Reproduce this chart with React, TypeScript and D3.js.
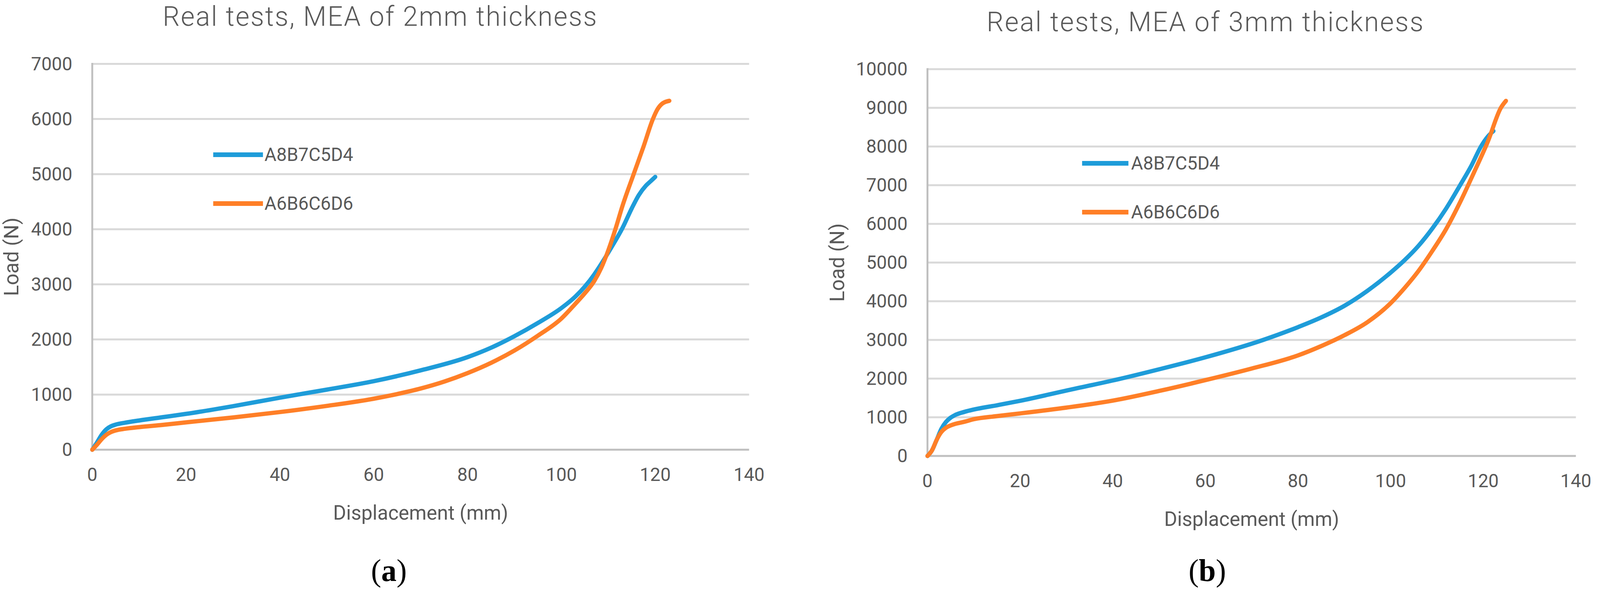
import React from "react";
import * as d3 from "d3";

// ---- data ----
const SERIES_NAMES = ["A8B7C5D4", "A6B6C6D6"];
const SERIES_COLORS = ["#1e9cd9", "#ff7f27"];
const TITLES = ["Real tests, MEA of 2mm thickness", "Real tests, MEA of 3mm thickness"];
const CAPTIONS = ["a", "b"];
const X_TITLE = "Displacement (mm)";
const Y_TITLE = "Load (N)";

const X_TICKS = [0, 20, 40, 60, 80, 100, 120, 140];
const Y_TICKS_2MM = [0, 1000, 2000, 3000, 4000, 5000, 6000, 7000];
const Y_TICKS_3MM = [0, 1000, 2000, 3000, 4000, 5000, 6000, 7000, 8000, 9000, 10000];

// 2mm thickness, A8B7C5D4
const mm2_A8B7C5D4: [number, number][] = [
  [0, 0], [1, 130], [2, 270], [3, 370], [4, 425], [5, 455], [7, 490], [10, 530],
  [15, 590], [20, 650], [30, 790], [40, 944], [50, 1090], [60, 1243], [70, 1440],
  [80, 1680], [85, 1850], [90, 2060], [95, 2300], [100, 2570], [103, 2780],
  [105, 2960], [107, 3180], [109, 3440], [111, 3720], [113, 4020], [115, 4380],
  [116.5, 4620], [118, 4790], [119, 4870], [120, 4950],
];
// 2mm thickness, A6B6C6D6
const mm2_A6B6C6D6: [number, number][] = [
  [0, 0], [1, 90], [2, 190], [3, 270], [4, 320], [5, 350], [7, 380], [10, 410],
  [15, 450], [20, 496], [30, 585], [40, 683], [50, 795], [60, 925], [65, 1010],
  [70, 1110], [75, 1235], [80, 1390], [85, 1575], [90, 1800], [95, 2070],
  [100, 2380], [103, 2650], [105, 2840], [107, 3060], [108.5, 3300], [110, 3620],
  [111.5, 4000], [113, 4420], [115.4, 5000], [117.5, 5500], [119.5, 6000],
  [120.5, 6180], [121.5, 6280], [123, 6330],
];
// 3mm thickness, A8B7C5D4
const mm3_A8B7C5D4: [number, number][] = [
  [0, 0], [1, 150], [2, 420], [3, 700], [4, 880], [5, 990], [6, 1060], [8, 1140],
  [10, 1200], [15, 1310], [20, 1425], [30, 1690], [41.8, 2000], [50, 2240],
  [60, 2550], [72.5, 3000], [80, 3330], [85, 3580], [90, 3880], [95, 4270],
  [100, 4740], [103, 5060], [106, 5430], [109, 5880], [112, 6400], [115, 7000],
  [117.5, 7520], [119.5, 8000], [121, 8260], [122.2, 8400],
];
// 3mm thickness, A6B6C6D6
const mm3_A6B6C6D6: [number, number][] = [
  [0, 0], [1, 150], [2, 420], [3, 620], [4, 730], [5, 790], [6, 830], [8, 885],
  [10, 950], [15, 1030], [20, 1100], [30, 1250], [40, 1430], [50, 1680],
  [60, 1960], [70, 2260], [80, 2600], [85, 2840], [90, 3120], [95, 3460],
  [100, 3950], [103, 4340], [106, 4780], [109, 5300], [112, 5870], [115, 6560],
  [118, 7330], [121, 8130], [123.8, 9000], [124.9, 9180],
];

const PANEL_SERIES = [
  [mm2_A8B7C5D4, mm2_A6B6C6D6],
  [mm3_A8B7C5D4, mm3_A6B6C6D6],
];
const PANEL_Y_TICKS = [Y_TICKS_2MM, Y_TICKS_3MM];

// ---- layout ----
const W = 4180;
const H = 1528;
const FONT = "Roboto, 'Open Sans', sans-serif";
const TEXT = "#595959";

const LAYOUT = [
  {
    left: 241, right: 1957, top: 163.5, bottom: 1151,
    titleX: 992, titleY: 66, titleW: 1134,
    legX0: 557, legX1: 687, legTextX: 691, legY: [396, 521],
    loadX: 30, captionX: 1016,
  },
  {
    left: 2423, right: 4117, top: 177, bottom: 1167,
    titleX: 3148, titleY: 80, titleW: 1141,
    legX0: 2827, legX1: 2948, legTextX: 2955, legY: [418, 543],
    loadX: 2188, captionX: 3154,
  },
];

const Panel: React.FC<{ idx: number }> = ({ idx }) => {
  const L = LAYOUT[idx];
  const yTicks = PANEL_Y_TICKS[idx];
  const series = PANEL_SERIES[idx];

  const x = d3.scaleLinear().domain([0, 140]).range([L.left, L.right]);
  const y = d3
    .scaleLinear()
    .domain([0, yTicks[yTicks.length - 1]])
    .range([L.bottom, L.top]);

  const line = d3
    .line<[number, number]>()
    .x(d => x(d[0]))
    .y(d => y(d[1]))
    .curve(d3.curveMonotoneX);

  const midY = (L.top + L.bottom) / 2;

  return (
    <g>
      {/* title */}
      <text x={L.titleX} y={L.titleY} textAnchor="middle" fontFamily={FONT}
        fontWeight={300} fontSize={70} fill={TEXT}
        textLength={L.titleW} lengthAdjust="spacing">
        {TITLES[idx]}
      </text>

      {/* gridlines */}
      {yTicks.filter(t => t > 0).map(t => (
        <line key={t} x1={L.left} x2={L.right} y1={y(t)} y2={y(t)}
          stroke="#d9d9d9" strokeWidth={5} />
      ))}
      {/* axes */}
      <line x1={L.left} x2={L.right} y1={y(0)} y2={y(0)} stroke="#bfbfbf" strokeWidth={5} />
      <line x1={L.left} x2={L.left} y1={L.top - 2.5} y2={L.bottom} stroke="#bfbfbf" strokeWidth={5} />

      {/* y tick labels */}
      {yTicks.map(t => (
        <text key={t} x={L.left - 52} y={y(t)} textAnchor="end" dominantBaseline="central"
          fontFamily={FONT} fontSize={48} fill={TEXT}>
          {t}
        </text>
      ))}
      {/* x tick labels */}
      {X_TICKS.map(t => (
        <text key={t} x={x(t)} y={y(0) + 64} textAnchor="middle" dominantBaseline="central"
          fontFamily={FONT} fontSize={48} fill={TEXT}>
          {t}
        </text>
      ))}

      {/* axis titles */}
      <text x={(L.left + L.right) / 2} y={y(0) + 161} textAnchor="middle" dominantBaseline="central"
        fontFamily={FONT} fontSize={52} fill={TEXT}>
        {X_TITLE}
      </text>
      <text transform={`translate(${L.loadX}, ${midY}) rotate(-90)`} textAnchor="middle"
        dominantBaseline="central" fontFamily={FONT} fontSize={52} fill={TEXT}>
        {Y_TITLE}
      </text>

      {/* series */}
      {series.map((s, i) => (
        <path key={i} d={line(s) || ""} fill="none" stroke={SERIES_COLORS[i]}
          strokeWidth={11} strokeLinecap="round" strokeLinejoin="round" />
      ))}

      {/* legend */}
      {SERIES_NAMES.map((name, i) => (
        <g key={name}>
          <line x1={L.legX0} x2={L.legX1} y1={L.legY[i]} y2={L.legY[i]}
            stroke={SERIES_COLORS[i]} strokeWidth={12} />
          <text x={L.legTextX} y={L.legY[i]} dominantBaseline="central"
            fontFamily={FONT} fontSize={48} fill={TEXT}>
            {name}
          </text>
        </g>
      ))}

      {/* caption */}
      <text x={L.captionX} y={1487} textAnchor="middle" fontFamily="'Liberation Serif', serif"
        fontSize={80} fill="#000">
        (<tspan fontWeight="bold">{CAPTIONS[idx]}</tspan>)
      </text>
    </g>
  );
};

export default function App() {
  return (
    <div style={{ position: "fixed", left: 0, top: 0, right: 0, bottom: 0, background: "#fff" }}>
      <svg width="100%" height="100%" viewBox={`0 0 ${W} ${H}`} preserveAspectRatio="none"
        style={{ display: "block" }}>
        <rect width={W} height={H} fill="#fff" />
        <Panel idx={0} />
        <Panel idx={1} />
      </svg>
    </div>
  );
}
